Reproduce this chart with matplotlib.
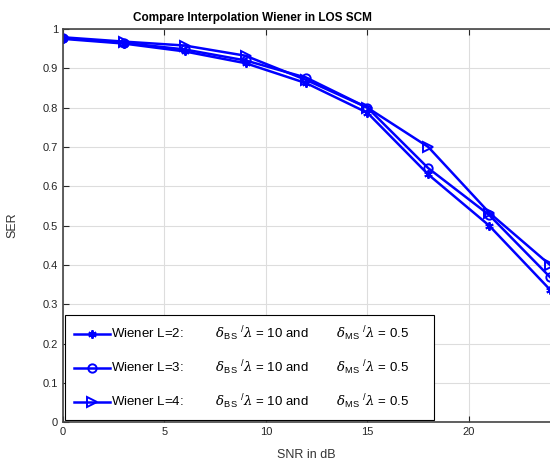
import matplotlib.pyplot as plt

plt.rcParams['font.family'] = ['Liberation Sans', 'DejaVu Sans']
plt.rcParams['mathtext.fontset'] = 'custom'
plt.rcParams['mathtext.rm'] = 'Liberation Sans'
plt.rcParams['mathtext.it'] = 'DejaVu Serif:italic'
plt.rcParams['mathtext.cal'] = 'DejaVu Serif'

# datos
snr = [0, 3, 6, 9, 12, 15, 18, 21, 24]
ser_l2 = [0.975, 0.963, 0.943, 0.913, 0.862, 0.787, 0.630, 0.500, 0.337]
ser_l3 = [0.977, 0.965, 0.948, 0.920, 0.876, 0.800, 0.646, 0.527, 0.369]
ser_l4 = [0.979, 0.968, 0.958, 0.932, 0.870, 0.800, 0.700, 0.533, 0.400]

sufijo = (r'         $\delta_{\rm BS}$ $^{/}\lambda$ = 10 and        $\delta_{\rm MS}$ $^{/}\lambda$ = 0.5'
          + '\u00a0' * 5)
etiquetas = ['Wiener L=2:' + sufijo, 'Wiener L=3:' + sufijo, 'Wiener L=4:' + sufijo]

fig = plt.figure(figsize=(5.5, 4.68), dpi=100)
ax = fig.add_axes([0.1145, 0.098, 0.8855, 0.84])

azul = (0, 0, 1)
ax.plot(snr, ser_l2, color=azul, lw=1.8, marker=(6, 2, 0), ms=6, mew=1.4, label=etiquetas[0])
ax.plot(snr, ser_l3, color=azul, lw=1.8, marker='o', ms=6, mew=1.4, fillstyle='none', label=etiquetas[1])
ax.plot(snr, ser_l4, color=azul, lw=1.8, marker='>', ms=7, mew=1.4, fillstyle='none', label=etiquetas[2])

ax.set_xlim(0, 24)
ax.set_ylim(0, 1)
ax.set_xticks([0, 5, 10, 15, 20])
ax.set_yticks([0, 0.1, 0.2, 0.3, 0.4, 0.5, 0.6, 0.7, 0.8, 0.9, 1])
ax.set_yticklabels(['0', '0.1', '0.2', '0.3', '0.4', '0.5', '0.6', '0.7', '0.8', '0.9', '1'])
ax.grid(True, color='#dddddd', lw=0.8)
ax.tick_params(direction='in', top=True, right=False, labelsize=8, colors='#262626', length=4)
for s in ['left', 'bottom', 'top']:
    ax.spines[s].set_color('#444444')
    ax.spines[s].set_linewidth(1.2)
ax.spines['right'].set_visible(False)

ax.set_xlabel('SNR in dB', fontsize=9, color='#333333', labelpad=9)
ax.set_ylabel('SER', fontsize=9, color='#333333')
ax.yaxis.set_label_coords(-0.092, 0.5)
ax.set_title('Compare Interpolation Wiener in LOS SCM', fontsize=8.5, fontweight='bold', x=0.39)

leg = ax.legend(loc='lower left', bbox_to_anchor=(0.0, 0.0), borderaxespad=0.15, fontsize=9.5,
                frameon=True, fancybox=False, edgecolor='black', handlelength=2.7,
                labelspacing=1.15, borderpad=0.7, handletextpad=0.1)
leg.get_frame().set_linewidth(0.8)
leg.get_frame().set_alpha(1)

fig.savefig('out.png', dpi=100)
